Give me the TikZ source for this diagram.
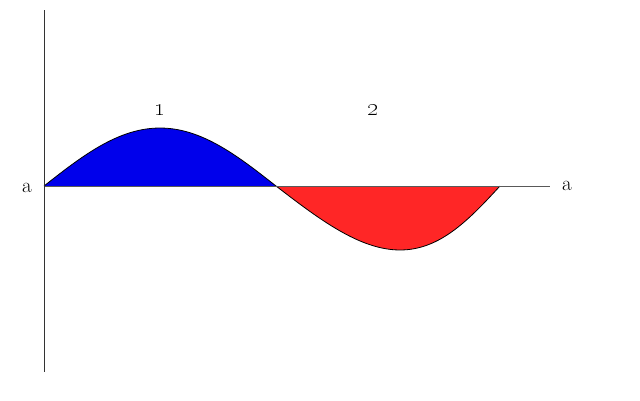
\documentclass[tikz,border=0pt]{standalone}
\begin{document}
\begin{tikzpicture}[x=1pt,y=-1pt,
  lbl/.style={inner sep=0pt,font=\fontsize{21}{24}\selectfont},
  num/.style={inner sep=0pt,font=\fontsize{24}{28}\selectfont},
  curve/.style={draw=black,line width=0.8pt}]
\useasboundingbox (0,0) rectangle (640,400);
\fill[blue!92!black!100] (44,186) -- plot[domain=0:1,samples=60,smooth] ({44+232*\x},{186-58*sin(180*\x)}) -- cycle;
\fill[red!85!white] (276,186) -- plot[domain=0:1,samples=60,smooth] ({276+224*(\x+0.054*sin(180*\x))},{186+64*sin(180*\x)}) -- cycle;
\draw[curve] plot[domain=0:1,samples=60,smooth] ({44+232*\x},{186-58*sin(180*\x)});
\draw[curve] plot[domain=0:1,samples=60,smooth] ({276+224*(\x+0.054*sin(180*\x))},{186+64*sin(180*\x)});
\coordinate (o) at (44,186);
\coordinate (xe) at (550,186);
\coordinate (yt) at (44,10);
\coordinate (yb) at (44,372);
\draw[gray!70!black,line width=0.8pt] (o) -- (xe);
\draw[black!80,line width=0.8pt] (yt) -- (yb);
\node[lbl] (al) at (27,188) {a};
\node[lbl] (ar) at (567,186) {a};
\node[num] (n1) at (160,110) {\oldstylenums{1}};
\node[num] (n2) at (373,110) {\oldstylenums{2}};
\end{tikzpicture}
\end{document}
